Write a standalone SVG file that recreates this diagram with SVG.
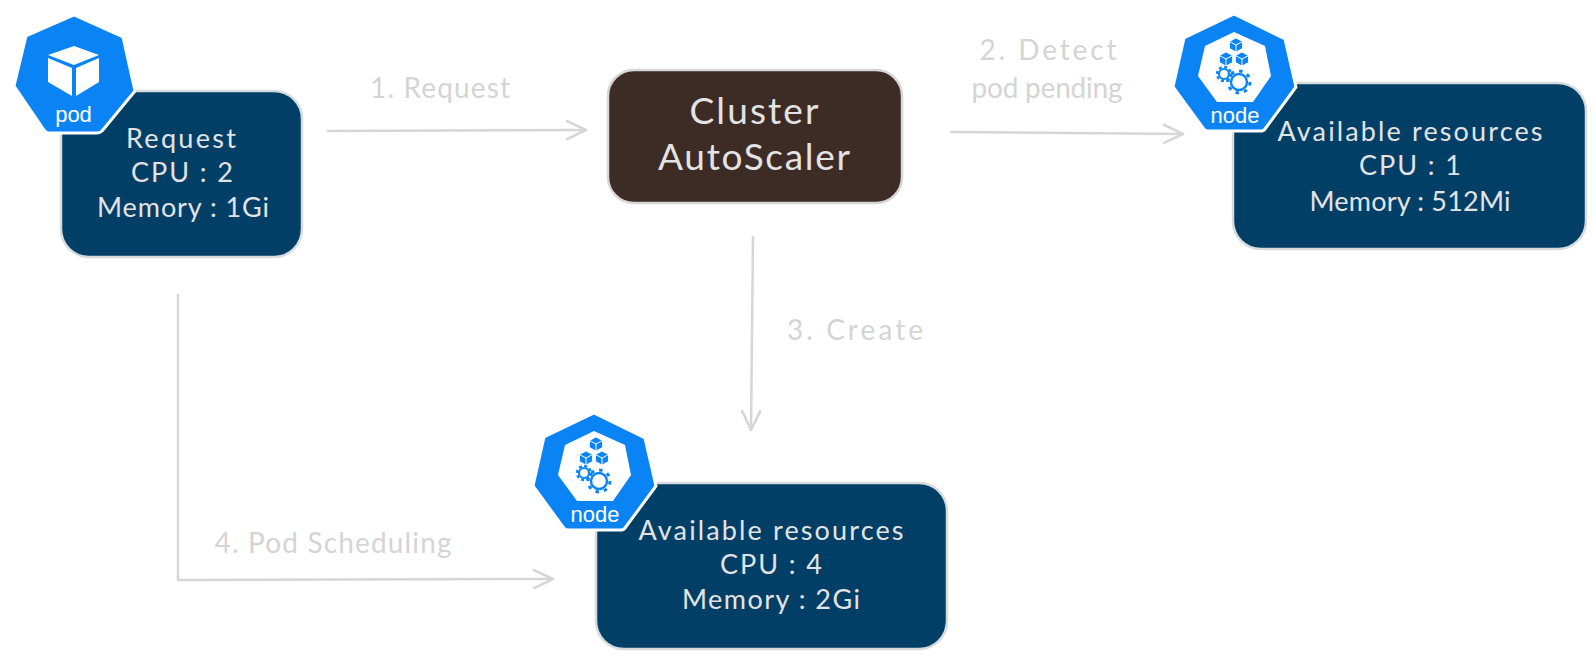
<svg xmlns="http://www.w3.org/2000/svg" width="1596" height="660" viewBox="0 0 1596 660">
<style>
.box{fill:#023f67;stroke:#d6dbde;stroke-width:2.5}
.t{font-family:"Lato","Liberation Sans",sans-serif;text-anchor:middle}
.in{font-size:27px;fill:#e3e3e3}
.big{font-size:37px;fill:#e3e3e3}
.lab{font-size:28px;fill:#d4d4d4}
.ico{font-family:"Liberation Sans",sans-serif;font-size:22px;fill:#fff;text-anchor:middle}
.hex{fill:#0a84f5;stroke:#fff;stroke-width:3;stroke-linejoin:round}
.c{fill:none;stroke:#d6d6d6;stroke-width:2.5;stroke-linecap:round;stroke-linejoin:round}
.cube{fill:#0a84f5;stroke:#fff;stroke-width:.8}
</style>
<defs>
<marker id="arrow" viewBox="0 0 24 24" refX="22" refY="12" markerWidth="24" markerHeight="24" markerUnits="userSpaceOnUse" orient="auto">
<path d="M3 3L22 12L3 21" fill="none" stroke="#d6d6d6" stroke-width="2.5" stroke-linecap="round" stroke-linejoin="round"/>
</marker>
<g id="smallcube"><path class="cube" d="M0-7L6.500-3.500V3.500L0 7L-6.500 3.500V-3.500Z"/><path d="M-6.500-3.500L0 0L6.500-3.500M0 0V7" fill="none" stroke="#fff" stroke-width="1"/></g>
<g id="nodeicon">
<path class="hex" d="M84 18L135 43L146 91L115 133Q114 135 110 135H58Q55 135 53 132L23 91L34 42Z"/>
<path d="M84 36L115 50L121 80L103 106H67L48 80L55 50Z" fill="#fff"/>
<use href="#smallcube" x="86" y="49"/>
<use href="#smallcube" x="76" y="63"/>
<use href="#smallcube" x="92" y="63"/>
<circle cx="74" cy="78" r="5" fill="#fff" stroke="#0a84f5" stroke-width="2.2"/>
<circle cx="74" cy="78" r="7" fill="none" stroke="#0a84f5" stroke-width="2.4" stroke-dasharray="3 2.5"/>
<circle cx="89" cy="86" r="8" fill="#fff" stroke="#0a84f5" stroke-width="2.4"/>
<circle cx="89" cy="86" r="11" fill="none" stroke="#0a84f5" stroke-width="3" stroke-dasharray="3.5 5.1"/>
<text class="ico" x="85" y="127">node</text>
</g>
</defs>

<g id="connectors">
<path class="c" d="M328 131L586 130" marker-end="url(#arrow)"/>
<path class="c" d="M951 132L1183 134" marker-end="url(#arrow)"/>
<path class="c" d="M753 237L751 430" marker-end="url(#arrow)"/>
<path class="c" d="M178 295V580L553 579" marker-end="url(#arrow)"/>
</g>

<g id="label-1"><text class="t lab" x="440" y="98" textLength="140">1. Request</text></g>
<g id="label-2"><text class="t lab" x="1048" y="60" textLength="137">2. Detect</text><text class="t lab" x="1047" y="98" textLength="151">pod pending</text></g>
<g id="label-3"><text class="t lab" x="855" y="340" textLength="136">3. Create</text></g>
<g id="label-4"><text class="t lab" x="333" y="553" textLength="237">4. Pod Scheduling</text></g>

<g id="node-request">
<rect class="box" x="61" y="91" width="241" height="166" rx="28"/>
<text class="t in" x="181" y="148" textLength="110">Request</text>
<text class="t in" x="182" y="182" textLength="102">CPU : 2</text>
<text class="t in" x="183" y="217" textLength="172">Memory : 1Gi</text>
</g>
<g id="icon-pod">
<path class="hex" d="M74 15L123 37L135 91L102 131Q100 133 97 133H49Q46 133 44 130L14 86L26 36Z"/>
<path d="M74 46L99 55L74 65L48 55Z" fill="#fff"/>
<path d="M48 58L72 68V96L48 82Z" fill="#fff"/>
<path d="M99 58L76 68V96L99 82Z" fill="#fff"/>
<text class="ico" x="73.500" y="122">pod</text>
</g>

<g id="node-autoscaler">
<rect x="608" y="70" width="294" height="133" rx="26" fill="#3d2b26" stroke="#d6d6d6" stroke-width="2.5"/>
<text class="t big" x="754" y="124" textLength="129">Cluster</text>
<text class="t big" x="754" y="170" textLength="192">AutoScaler</text>
</g>

<g id="node-existing">
<rect class="box" x="1233" y="83" width="353" height="166" rx="28"/>
<text class="t in" x="1410" y="141" textLength="265">Available resources</text>
<text class="t in" x="1410" y="175" textLength="102">CPU : 1</text>
<text class="t in" x="1410" y="211" textLength="201">Memory : 512Mi</text>
</g>
<g id="icon-node-1"><use href="#nodeicon" transform="translate(1150,-4)"/></g>

<g id="node-new">
<rect class="box" x="596" y="483" width="351" height="166" rx="28"/>
<text class="t in" x="771" y="540" textLength="265">Available resources</text>
<text class="t in" x="771" y="574" textLength="102">CPU : 4</text>
<text class="t in" x="771" y="609" textLength="178">Memory : 2Gi</text>
</g>
<g id="icon-node-2"><use href="#nodeicon" transform="translate(510,395)"/></g>
</svg>
